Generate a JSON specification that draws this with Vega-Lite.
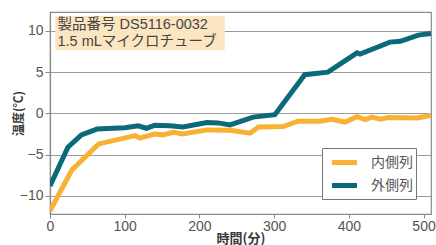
{
  "$schema": "https://vega.github.io/schema/vega-lite/v6.json",
  "width": 381,
  "height": 202,
  "autosize": {"type": "none"},
  "padding": {"left": 50, "top": 12, "right": 5, "bottom": 31},
  "background": "white",
  "config": {
    "view": {"stroke": "#8a8a8a", "strokeWidth": 1.2},
    "font": "Liberation Sans, Noto Sans CJK JP"
  },
  "layer": [
    {
      "data": {
        "values": [
          {"t": 0, "v": -8.8, "s": "外側列"},
          {"t": 24, "v": -4.1, "s": "外側列"},
          {"t": 42, "v": -2.6, "s": "外側列"},
          {"t": 63, "v": -1.9, "s": "外側列"},
          {"t": 100, "v": -1.75, "s": "外側列"},
          {"t": 118, "v": -1.5, "s": "外側列"},
          {"t": 129, "v": -1.8, "s": "外側列"},
          {"t": 140, "v": -1.45, "s": "外側列"},
          {"t": 160, "v": -1.5, "s": "外側列"},
          {"t": 178, "v": -1.65, "s": "外側列"},
          {"t": 210, "v": -1.1, "s": "外側列"},
          {"t": 225, "v": -1.15, "s": "外側列"},
          {"t": 241, "v": -1.4, "s": "外側列"},
          {"t": 272, "v": -0.45, "s": "外側列"},
          {"t": 301, "v": -0.15, "s": "外側列"},
          {"t": 341, "v": 4.7, "s": "外側列"},
          {"t": 372, "v": 5.0, "s": "外側列"},
          {"t": 411, "v": 7.35, "s": "外側列"},
          {"t": 415, "v": 7.2, "s": "外側列"},
          {"t": 455, "v": 8.65, "s": "外側列"},
          {"t": 469, "v": 8.75, "s": "外側列"},
          {"t": 493, "v": 9.5, "s": "外側列"},
          {"t": 510, "v": 9.7, "s": "外側列"},
          {"t": 0, "v": -11.8, "s": "内側列"},
          {"t": 29, "v": -6.9, "s": "内側列"},
          {"t": 65, "v": -3.7, "s": "内側列"},
          {"t": 114, "v": -2.7, "s": "内側列"},
          {"t": 120, "v": -3.0, "s": "内側列"},
          {"t": 140, "v": -2.5, "s": "内側列"},
          {"t": 151, "v": -2.6, "s": "内側列"},
          {"t": 165, "v": -2.3, "s": "内側列"},
          {"t": 178, "v": -2.5, "s": "内側列"},
          {"t": 210, "v": -2.0, "s": "内側列"},
          {"t": 241, "v": -2.05, "s": "内側列"},
          {"t": 268, "v": -2.4, "s": "内側列"},
          {"t": 279, "v": -1.65, "s": "内側列"},
          {"t": 312, "v": -1.6, "s": "内側列"},
          {"t": 332, "v": -0.95, "s": "内側列"},
          {"t": 361, "v": -0.95, "s": "内側列"},
          {"t": 377, "v": -0.7, "s": "内側列"},
          {"t": 395, "v": -1.05, "s": "内側列"},
          {"t": 411, "v": -0.4, "s": "内側列"},
          {"t": 422, "v": -0.75, "s": "内側列"},
          {"t": 431, "v": -0.45, "s": "内側列"},
          {"t": 442, "v": -0.7, "s": "内側列"},
          {"t": 453, "v": -0.5, "s": "内側列"},
          {"t": 491, "v": -0.55, "s": "内側列"},
          {"t": 510, "v": -0.25, "s": "内側列"}
        ]
      },
      "mark": {"type": "line", "strokeWidth": 5, "clip": true, "strokeJoin": "miter"},
      "encoding": {
        "x": {
          "field": "t", "type": "quantitative",
          "scale": {"domain": [0, 510], "nice": false, "zero": false},
          "axis": {
            "title": "時間(分)", "values": [0, 100, 200, 300, 400, 500],
            "grid": false, "domainColor": "#8a8a8a", "domainWidth": 1.2,
            "tickColor": "#8a8a8a", "tickSize": 4,
            "labelFont": "Liberation Sans", "labelFontSize": 14, "labelColor": "#555555",
            "labelPadding": 1, "labelFlush": false,
            "titleFont": "Noto Sans CJK JP", "titleFontSize": 13, "titleFontWeight": "bold",
            "titleColor": "#3a3a3a", "titlePadding": -1
          }
        },
        "y": {
          "field": "v", "type": "quantitative",
          "scale": {"domain": [-12.2, 12.3], "nice": false, "zero": false},
          "axis": {
            "title": "温度(℃)", "values": [-10, -5, 0, 5, 10],
            "grid": true, "gridColor": "#9a9a9a", "gridWidth": 1.2,
            "domainColor": "#8a8a8a", "domainWidth": 1.2,
            "tickColor": "#8a8a8a", "tickSize": 5,
            "labelFont": "Liberation Sans", "labelFontSize": 14, "labelColor": "#555555",
            "labelPadding": 2,
            "titleFont": "Noto Sans CJK JP", "titleFontSize": 12, "titleFontWeight": "bold",
            "titleColor": "#3a3a3a", "titlePadding": -6
          }
        },
        "color": {
          "field": "s", "type": "nominal",
          "scale": {"domain": ["内側列", "外側列"], "range": ["#F8B133", "#0A6A7A"]},
          "legend": {
            "title": null, "orient": "bottom-right", "offset": 15,
            "symbolType": "M-1.39,0H1.39", "symbolSize": 324, "symbolStrokeWidth": 5,
            "symbolOffset": 8,
            "labelFont": "Noto Sans CJK JP", "labelFontSize": 14, "labelColor": "#555555",
            "strokeColor": "#777777", "fillColor": "white", "padding": 3,
            "rowPadding": 1, "labelOffset": 15
          }
        }
      }
    },
    {
      "data": {"values": [{"label": "box"}]},
      "mark": {"type": "rect", "color": "#FCE6C2"},
      "encoding": {
        "x": {"datum": 7},
        "x2": {"datum": 234},
        "y": {"datum": 11.8},
        "y2": {"datum": 7.7}
      }
    },
    {
      "data": {"values": [{"label": "製品番号 DS5116-0032"}]},
      "mark": {"type": "text", "align": "left", "baseline": "middle", "font": "Liberation Sans, Noto Sans CJK JP", "fontSize": 14.5, "color": "#444444"},
      "encoding": {
        "x": {"datum": 10},
        "y": {"datum": 10.7},
        "text": {"field": "label"}
      }
    },
    {
      "data": {"values": [{"label": "1.5 mLマイクロチューブ"}]},
      "mark": {"type": "text", "align": "left", "baseline": "middle", "font": "Liberation Sans, Noto Sans CJK JP", "fontSize": 14.5, "color": "#444444"},
      "encoding": {
        "x": {"datum": 10},
        "y": {"datum": 8.65},
        "text": {"field": "label"}
      }
    }
  ]
}
